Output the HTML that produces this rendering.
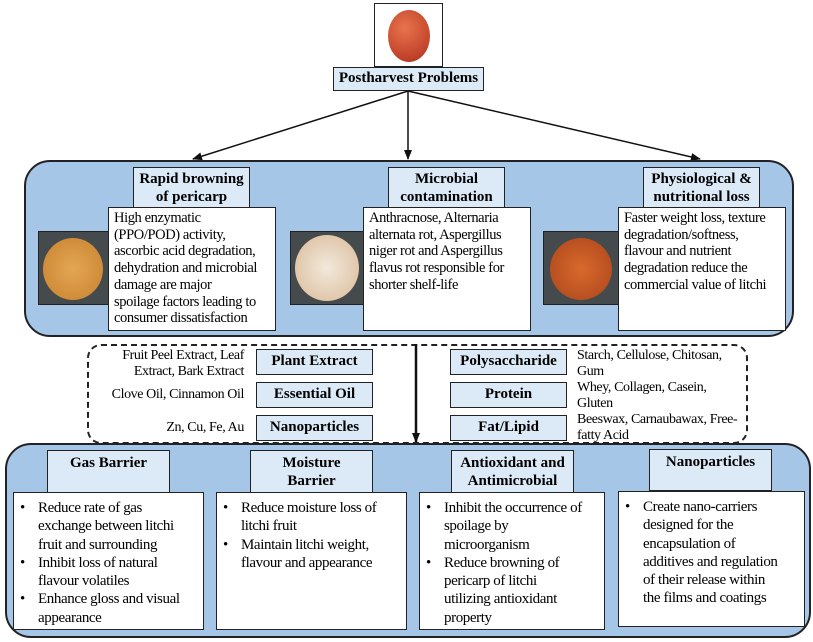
<!DOCTYPE html>
<html><head><meta charset="utf-8"><style>
body{margin:0;width:813px;height:642px;background:#fff;font-family:"Liberation Serif",serif;position:relative;overflow:hidden}
.a{position:absolute;box-sizing:border-box}
.hd{background:#dce9f7;border:1.5px solid #222;font-weight:bold;text-align:center;font-size:15px;line-height:18px}
.tx{background:#fff;border:1.5px solid #222;font-size:14.5px;line-height:16.7px;padding:2px 5px;letter-spacing:-0.4px}
.bl{background:#fff;border:1.5px solid #222;font-size:15px;line-height:18.3px;padding:6px 4px 0 24px;letter-spacing:-0.4px}
.bl div{position:relative}
.bl div:before{content:"•";position:absolute;left:-18px}
.pn{background:#a6c6e8;border:2px solid #222;border-radius:26px}
.sm{font-size:14px;line-height:16px;letter-spacing:-0.4px}
.img{border:1.5px solid #222;background:#454a4c}
</style></head><body>
<div class="a" style="left:374px;top:3px;width:69px;height:64px;border:1.5px solid #222;background:#fff">
<div class="a" style="left:13px;top:6px;width:42px;height:52px;border-radius:50%;background:radial-gradient(circle at 40% 35%,#e7734d,#c2432a 70%,#9c2d1c)"></div></div>
<div class="a hd" style="left:333px;top:67px;width:151px;height:24px;line-height:21px">Postharvest Problems</div>
<svg class="a" style="left:0;top:0" width="813" height="642">
<defs><marker id="m" markerUnits="userSpaceOnUse" markerWidth="10" markerHeight="8" refX="9" refY="4" orient="auto"><path d="M0,0L10,4L0,8z" fill="#111"/></marker></defs>
<g stroke="#111" stroke-width="1.5" fill="none">
<line x1="408" y1="91" x2="193" y2="159" marker-end="url(#m)"/>
<line x1="408" y1="91" x2="408" y2="159" marker-end="url(#m)"/>
<line x1="408" y1="91" x2="700" y2="159" marker-end="url(#m)"/>
</g></svg>
<div class="a pn" style="left:24px;top:160px;width:770px;height:177px"></div>
<div class="a hd" style="left:133px;top:167px;width:117px;height:41px;padding-top:2px">Rapid browning of pericarp</div>
<div class="a hd" style="left:388px;top:167px;width:117px;height:41px;padding-top:2px">Microbial contamination</div>
<div class="a hd" style="left:643px;top:167px;width:117px;height:41px;padding-top:2px">Physiological &amp; nutritional loss</div>
<div class="a img" style="left:38px;top:231px;width:71px;height:74px"><div class="a" style="left:4px;top:6px;width:60px;height:62px;border-radius:50%;background:radial-gradient(#e4a653,#c7822e)"></div></div>
<div class="a img" style="left:290px;top:231px;width:74px;height:74px"><div class="a" style="left:4px;top:3px;width:64px;height:66px;border-radius:50%;background:radial-gradient(#f2e9dc,#d9b996)"></div></div>
<div class="a img" style="left:543px;top:231px;width:76px;height:74px"><div class="a" style="left:6px;top:6px;width:62px;height:62px;border-radius:50%;background:radial-gradient(#d96a2c,#a9441b)"></div></div>
<div class="a tx" style="left:108px;top:207px;width:168px;height:124px">High enzymatic<br>(PPO/POD) activity,<br>ascorbic acid degradation,<br>dehydration and microbial<br>damage are major<br>spoilage factors leading to<br>consumer dissatisfaction</div>
<div class="a tx" style="left:363px;top:207px;width:168px;height:124px">Anthracnose, Alternaria<br>alternata rot, Aspergillus<br>niger rot and Aspergillus<br>flavus rot responsible for<br>shorter shelf-life</div>
<div class="a tx" style="left:618px;top:207px;width:168px;height:124px">Faster weight loss, texture<br>degradation/softness,<br>flavour and nutrient<br>degradation reduce the<br>commercial value of litchi</div>
<div class="a" style="left:87px;top:344px;width:661px;height:100px;border:2px dashed #222;border-radius:14px"></div>
<div class="a hd" style="left:256px;top:349px;width:117px;height:26px;line-height:23px">Plant Extract</div>
<div class="a hd" style="left:256px;top:382px;width:117px;height:26px;line-height:23px">Essential Oil</div>
<div class="a hd" style="left:256px;top:415px;width:117px;height:26px;line-height:23px">Nanoparticles</div>
<div class="a hd" style="left:450px;top:349px;width:117px;height:26px;line-height:23px">Polysaccharide</div>
<div class="a hd" style="left:450px;top:382px;width:117px;height:26px;line-height:23px">Protein</div>
<div class="a hd" style="left:450px;top:415px;width:117px;height:26px;line-height:23px">Fat/Lipid</div>
<div class="a sm" style="left:100px;top:348px;width:144px;text-align:right">Fruit Peel Extract, Leaf<br>Extract, Bark Extract</div>
<div class="a sm" style="left:90px;top:387px;width:154px;text-align:right">Clove Oil, Cinnamon Oil</div>
<div class="a sm" style="left:90px;top:420px;width:154px;text-align:right">Zn, Cu, Fe, Au</div>
<div class="a sm" style="left:577px;top:348px;width:165px">Starch, Cellulose, Chitosan,<br>Gum</div>
<div class="a sm" style="left:577px;top:380px;width:165px">Whey, Collagen, Casein,<br>Gluten</div>
<div class="a sm" style="left:577px;top:412px;width:168px">Beeswax, Carnaubawax, Free-<br>fatty Acid</div>
<div class="a pn" style="left:5px;top:443px;width:806px;height:195px"></div>
<svg class="a" style="left:0;top:0" width="813" height="642"><line x1="416" y1="344" x2="416" y2="442" stroke="#111" stroke-width="2.5" marker-end="url(#m)"/></svg>
<div class="a hd" style="left:47px;top:450px;width:123px;height:43px;padding-top:3px">Gas Barrier</div>
<div class="a hd" style="left:250px;top:450px;width:123px;height:43px;padding:3px 20px 0">Moisture Barrier</div>
<div class="a hd" style="left:451px;top:450px;width:123px;height:43px;padding-top:3px">Antioxidant and Antimicrobial</div>
<div class="a hd" style="left:649px;top:449px;width:123px;height:42px;padding-top:3px">Nanoparticles</div>
<div class="a bl" style="left:13px;top:492px;width:191px;height:138px"><div>Reduce rate of gas<br>exchange between litchi<br>fruit and surrounding</div><div>Inhibit loss of natural<br>flavour volatiles</div><div>Enhance gloss and visual<br>appearance</div></div>
<div class="a bl" style="left:216px;top:492px;width:191px;height:138px"><div>Reduce moisture loss of<br>litchi fruit</div><div>Maintain litchi weight,<br>flavour and appearance</div></div>
<div class="a bl" style="left:419px;top:492px;width:186px;height:138px"><div>Inhibit the occurrence of<br>spoilage by<br>microorganism</div><div>Reduce browning of<br>pericarp of litchi<br>utilizing antioxidant<br>property</div></div>
<div class="a bl" style="left:618px;top:491px;width:187px;height:136px"><div>Create nano-carriers<br>designed for the<br>encapsulation of<br>additives and regulation<br>of their release within<br>the films and coatings</div></div>
</body></html>
